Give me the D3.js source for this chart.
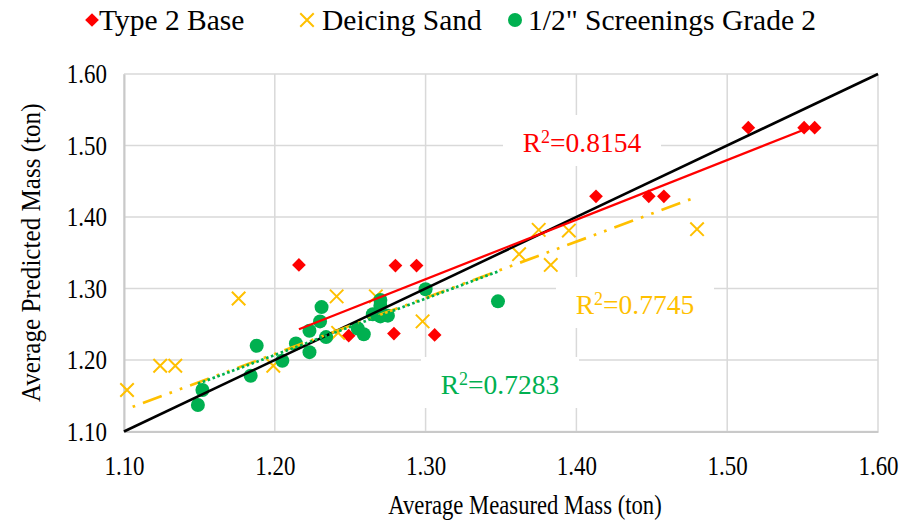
<!DOCTYPE html>
<html>
<head>
<meta charset="utf-8">
<script src="https://cdn.jsdelivr.net/npm/d3@7"></script>
<style>
  body { margin: 0; background: #fff; }
  text { font-family: "Liberation Serif", "Times New Roman", serif; }
</style>
</head>
<body>
<svg width="909" height="527"></svg>
<script>
// series names as shown in the legend
var seriesNames = ["Type 2 Base", "Deicing Sand", "1/2\" Screenings Grade 2"];

// Type 2 Base (measured, predicted)
var baseX = [1.216, 1.280, 1.294, 1.249, 1.279, 1.306, 1.413, 1.448, 1.458, 1.514, 1.551, 1.558];
var baseY = [1.333, 1.332, 1.332, 1.234, 1.237, 1.235, 1.429, 1.429, 1.429, 1.525, 1.525, 1.525];

// Deicing Sand
var sandX = [1.102, 1.124, 1.134, 1.176, 1.199, 1.241, 1.267, 1.242, 1.298, 1.362, 1.375, 1.383, 1.395, 1.480];
var sandY = [1.158, 1.192, 1.192, 1.286, 1.192, 1.289, 1.289, 1.238, 1.254, 1.348, 1.382, 1.333, 1.381, 1.383];

// 1/2" Screenings Grade 2
var screenX = [1.149, 1.152, 1.184, 1.188, 1.205, 1.214, 1.223, 1.223, 1.231, 1.230, 1.234, 1.255, 1.259, 1.265, 1.270, 1.270, 1.270, 1.275, 1.300, 1.348];
var screenY = [1.137, 1.158, 1.178, 1.220, 1.199, 1.223, 1.211, 1.241, 1.274, 1.254, 1.232, 1.244, 1.236, 1.264, 1.284, 1.276, 1.261, 1.262, 1.299, 1.282];

// linear trendlines (slope, intercept) and their R² values
var trendSlope = [0.833, 0.785, 0.789];
var trendIntercept = [0.2301, 0.2665, 0.2602];
var r2Values = ["0.8154", "0.7745", "0.7283"];

// axis ticks
var xTicks = [1.10, 1.20, 1.30, 1.40, 1.50, 1.60];
var yTicks = [1.10, 1.20, 1.30, 1.40, 1.50, 1.60];

var colors = ["#ff0000", "#ffc000", "#00b050"];

var svg = d3.select("svg"),
  width = +svg.attr("width"),
  height = +svg.attr("height");

var margin = { top: 74, right: 31, bottom: 95.5, left: 124 };

var x = d3.scaleLinear().domain([1.10, 1.60]).range([margin.left, width - margin.right]);
var y = d3.scaleLinear().domain([1.10, 1.60]).range([height - margin.bottom, margin.top]);

var series = [
  { xs: baseX, ys: baseY },
  { xs: sandX, ys: sandY },
  { xs: screenX, ys: screenY }
].map(function (s, i) {
  return {
    name: seriesNames[i],
    color: colors[i],
    points: s.xs.map(function (v, j) { return { x: v, y: s.ys[j] }; }),
    slope: trendSlope[i],
    intercept: trendIntercept[i],
    r2: r2Values[i]
  };
});

// gridlines
var grid = svg.append("g");
grid.selectAll(".gx")
  .data(xTicks)
  .enter().append("line")
  .attr("x1", function (d) { return x(d); })
  .attr("x2", function (d) { return x(d); })
  .attr("y1", y(1.10))
  .attr("y2", y(1.60))
  .attr("stroke", "#d9d9d9")
  .attr("stroke-width", 1.5);
grid.selectAll(".gy")
  .data(yTicks)
  .enter().append("line")
  .attr("x1", x(1.10))
  .attr("x2", x(1.60))
  .attr("y1", function (d) { return y(d); })
  .attr("y2", function (d) { return y(d); })
  .attr("stroke", "#d9d9d9")
  .attr("stroke-width", 1.5);

// axes; the tick text is a narrow, tall serif so squeeze it a bit
var squeeze = 0.85;
var xAxis = svg.append("g")
  .attr("transform", "translate(0," + y(1.10) + ")")
  .call(d3.axisBottom(x).tickValues(xTicks).tickFormat(d3.format(".2f")).tickSize(0).tickPadding(24));
var yAxis = svg.append("g")
  .attr("transform", "translate(" + x(1.10) + ",0)")
  .call(d3.axisLeft(y).tickValues(yTicks).tickFormat(d3.format(".2f")).tickSize(0).tickPadding(17));

[xAxis, yAxis].forEach(function (a) {
  a.select(".domain").attr("stroke", "#c9c9c9").attr("stroke-width", 2);
  a.selectAll("text")
    .attr("fill", "#000")
    .attr("transform", "scale(" + squeeze + ",1)")
    .style("font-size", "27px")
    .style("font-family", "'Liberation Serif', serif");
});
yAxis.selectAll("text").attr("x", -17 / squeeze);

// axis titles
svg.append("text")
  .attr("transform", "translate(525,514) scale(0.84,1)")
  .attr("text-anchor", "middle")
  .style("font-size", "27px")
  .text("Average Measured Mass (ton)");
svg.append("text")
  .attr("transform", "translate(40," + (y(1.10) + y(1.60)) / 2 + ") rotate(-90) scale(0.93,1)")
  .attr("text-anchor", "middle")
  .style("font-size", "27px")
  .text("Average Predicted Mass (ton)");

// marker shapes
var diamond = d3.symbol().type(d3.symbolDiamond2).size(120);
var cross = d3.symbol().type(d3.symbolX).size(120);

function drawMarker(sel, i) {
  if (i === 0) {
    sel.append("path").attr("d", diamond).attr("fill", colors[0]);
  } else if (i === 1) {
    sel.append("path").attr("d", cross)
      .attr("fill", "none").attr("stroke", colors[1]).attr("stroke-width", 2);
  } else {
    sel.append("circle").attr("r", 7).attr("fill", colors[2]);
  }
}

// data points
var pts = svg.append("g");
series.forEach(function (s, i) {
  pts.selectAll(".p" + i)
    .data(s.points)
    .enter().append("g")
    .attr("transform", function (d) { return "translate(" + x(d.x) + "," + y(d.y) + ")"; })
    .each(function () { drawMarker(d3.select(this), i); });
});

// 1:1 line
svg.append("line")
  .attr("x1", x(1.10)).attr("y1", y(1.10))
  .attr("x2", x(1.60)).attr("y2", y(1.60))
  .attr("stroke", "#000")
  .attr("stroke-width", 2.6);

// trendlines over the data range of each series
var dashes = [null, "20,8.3,2.7,8.3,2.7,8.3", "2.6,2.6"];
var offsets = [0, 33.3, 0];
[0, 1, 2].forEach(function (i) {
  var s = series[i];
  var ext = d3.extent(s.points, function (d) { return d.x; });
  svg.append("line")
    .attr("x1", x(ext[0])).attr("y1", y(s.slope * ext[0] + s.intercept))
    .attr("x2", x(ext[1])).attr("y2", y(s.slope * ext[1] + s.intercept))
    .attr("stroke", s.color)
    .attr("stroke-width", i === 0 ? 2.3 : 2.7)
    .attr("stroke-dasharray", dashes[i])
    .attr("stroke-dashoffset", offsets[i]);
});

// R² labels on white boxes
var labelAt = [{ cx: 582, by: 152 }, { cx: 635, by: 314 }, { cx: 500, by: 394 }];
series.forEach(function (s, i) {
  var p = labelAt[i];
  svg.append("rect")
    .attr("x", p.cx - 79).attr("y", p.by - 37)
    .attr("width", 158).attr("height", 51)
    .attr("fill", "#fff");
  var t = svg.append("text")
    .attr("x", p.cx).attr("y", p.by)
    .attr("text-anchor", "middle")
    .attr("fill", s.color)
    .style("font-size", "27.5px");
  t.append("tspan").text("R");
  t.append("tspan").attr("dy", -9).style("font-size", "18px").text("2");
  t.append("tspan").attr("dy", 9).text("=" + s.r2);
});

// legend
var legendMarkX = [92, 307, 515];
var legendTextX = [99, 322, 528];
series.forEach(function (s, i) {
  var g = svg.append("g").attr("transform", "translate(" + legendMarkX[i] + ",20)");
  drawMarker(g, i);
  svg.append("text")
    .attr("x", legendTextX[i])
    .attr("y", 30)
    .style("font-size", "29.5px")
    .text(s.name);
});
</script>
</body>
</html>
